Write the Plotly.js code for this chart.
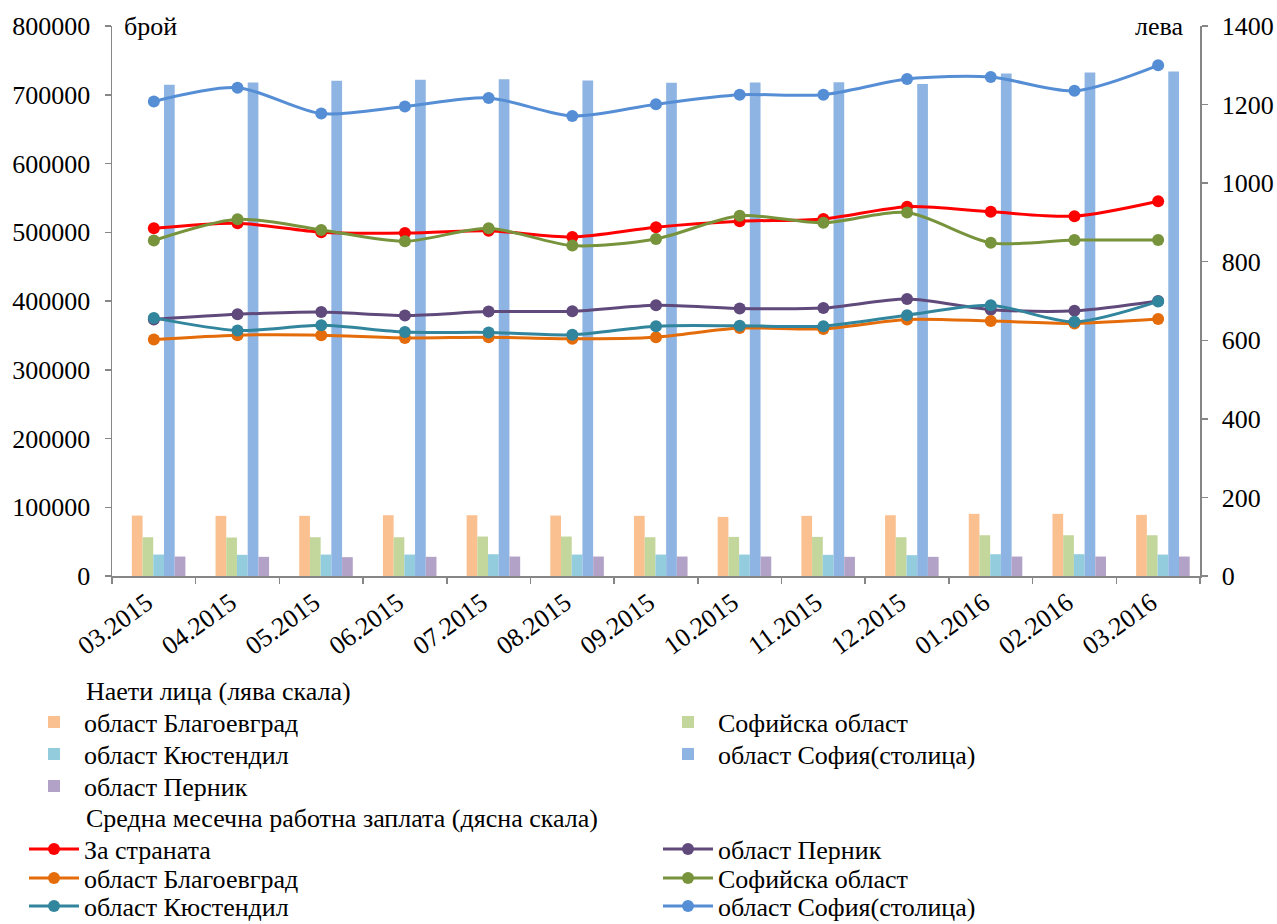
<!DOCTYPE html>
<html>
<head>
<meta charset="utf-8">
<script src="https://cdn.plot.ly/plotly-3.0.1.min.js"></script>
<style>html,body{margin:0;padding:0;background:#fff;}#chart{width:1277px;height:924px;}</style>
</head>
<body>
<div id="chart"></div>
<script>
// Categories (months)
const months = ['03.2015','04.2015','05.2015','06.2015','07.2015','08.2015','09.2015','10.2015','11.2015','12.2015','01.2016','02.2016','03.2016'];

// Employed persons (left scale)
const empBlagoevgrad = [87900, 87500, 87500, 88400, 88400, 87900, 87500, 86000, 87500, 88400, 90400, 90400, 88900];
const empSofiaRegion = [56400, 56000, 56400, 56400, 57400, 57400, 56400, 56900, 56900, 56400, 59300, 59300, 59300];
const empKyustendil = [31200, 30800, 31200, 31200, 31700, 31200, 31200, 31200, 30800, 30300, 31700, 31700, 31200];
const empSofiaCity = [714400, 717700, 720200, 721700, 722600, 720700, 717300, 717700, 718300, 715800, 730800, 732300, 733700];
const empPernik = [28300, 27900, 27400, 27900, 28300, 28300, 28300, 28300, 27900, 27900, 28300, 28300, 28300];

// Average monthly wage (right scale)
const wageCountry = [885, 898, 875, 873, 879, 863, 888, 903, 909, 940, 927, 916, 954];
const wagePernik = [653, 666, 672, 663, 673, 674, 689, 681, 682, 705, 678, 675, 700];
const wageBlagoevgrad = [602, 613, 613, 606, 608, 604, 608, 631, 629, 653, 649, 643, 654];
const wageSofiaRegion = [854, 908, 881, 852, 885, 841, 858, 917, 899, 925, 848, 855, 855];
const wageKyustendil = [657, 625, 638, 621, 620, 614, 636, 637, 636, 664, 689, 647, 699];
const wageSofiaCity = [1208, 1243, 1177, 1195, 1217, 1171, 1201, 1225, 1225, 1265, 1270, 1235, 1300];

const legendTitleBars = 'Наети лица (лява скала)';
const legendTitleLines = 'Средна месечна работна заплата (дясна скала)';

const FONT = 'Liberation Serif';
const FS = 26;
const BW = 0.128;
const W = 1277, H = 924;
const ML = 112, MR = 77, MT = 26, MB = 348;
const PW = W - ML - MR, PH = H - MT - MB;
const ITEMW = 50;

// legend placement: [text-left-x, row-center-y] in page pixels
const COL1 = 84, COL2 = 718;
let legendCount = 0;
const legends = {};
function legendAt(px, py) {
  legendCount++;
  const id = legendCount === 1 ? 'legend' : 'legend' + legendCount;
  legends[id] = {
    xref: 'paper', yref: 'paper',
    x: (px - (ITEMW + 10) - ML) / PW, y: (H - MB - py) / PH, xanchor: 'left', yanchor: 'middle',
    itemwidth: ITEMW,
    font: {family: FONT, size: FS, color: '#000'},
    bgcolor: 'rgba(0,0,0,0)', borderwidth: 0, itemclick: false, itemdoubleclick: false
  };
  return id;
}

function bar(name, y, color, slot, pos) {
  return {
    type: 'bar', name: name, x: months, y: y, yaxis: 'y',
    marker: {color: color, line: {width: 0}},
    width: BW, offset: -0.263 + slot * BW,
    showlegend: true,
    legend: legendAt(pos[0], pos[1])
  };
}
function line(name, y, color, pos) {
  return {
    type: 'scatter', mode: 'lines+markers', name: name, x: months, y: y, yaxis: 'y2',
    line: {color: color, width: 3, shape: 'spline', smoothing: 0.8},
    marker: {color: color, size: 12, symbol: 'circle'},
    showlegend: true,
    legend: legendAt(pos[0], pos[1])
  };
}

const data = [
  bar('област Благоевград', empBlagoevgrad, '#FAC090', 0, [COL1, 722]),
  bar('Софийска област', empSofiaRegion, '#C3D69B', 1, [COL2, 722]),
  bar('област Кюстендил', empKyustendil, '#93CDDD', 2, [COL1, 754]),
  bar('област София(столица)', empSofiaCity, '#8EB4E3', 3, [COL2, 754]),
  bar('област Перник', empPernik, '#B3A2C7', 4, [COL1, 786]),
  line('За страната', wageCountry, '#FF0000', [COL1, 849]),
  line('област Перник', wagePernik, '#604A7B', [COL2, 849]),
  line('област Благоевград', wageBlagoevgrad, '#E46C0A', [COL1, 878]),
  line('Софийска област', wageSofiaRegion, '#77933C', [COL2, 878]),
  line('област Кюстендил', wageKyustendil, '#31859C', [COL1, 906]),
  line('област София(столица)', wageSofiaCity, '#558ED5', [COL2, 906])
];

const axisCommon = {
  showgrid: false, zeroline: false, showline: true, linecolor: '#868686', linewidth: 1.5,
  ticks: 'outside', ticklen: 6, tickcolor: '#868686', tickwidth: 1.5, automargin: false,
  tickfont: {family: FONT, size: FS, color: '#000'}
};

const layout = Object.assign({
  width: W, height: H,
  margin: {l: ML, r: MR, t: MT, b: MB, pad: 0, autoexpand: false},
  paper_bgcolor: '#fff', plot_bgcolor: '#fff',
  font: {family: FONT, size: FS, color: '#000'},
  showlegend: true,
  barmode: 'overlay',
  xaxis: Object.assign({}, axisCommon, {
    type: 'category', categoryorder: 'array', categoryarray: months,
    tickson: 'boundaries', tickangle: -36, range: [-0.5, 12.5], ticklabelshift: -7
  }),
  yaxis: Object.assign({}, axisCommon, {
    range: [0, 800000], dtick: 100000, tickformat: 'd', ticklabelstandoff: 9
  }),
  yaxis2: Object.assign({}, axisCommon, {
    overlaying: 'y', side: 'right', range: [0, 1400], dtick: 200, tickformat: 'd', ticklabelstandoff: 9
  }),
  annotations: [
    {text: 'брой', xref: 'paper', yref: 'paper', x: 0.009, y: 1, xanchor: 'left', yanchor: 'middle', showarrow: false,
     font: {family: FONT, size: FS, color: '#000'}},
    {text: 'лева', xref: 'paper', yref: 'paper', x: 0.9865, y: 1, xanchor: 'right', yanchor: 'middle', showarrow: false,
     font: {family: FONT, size: FS, color: '#000'}},
    {text: legendTitleBars, xref: 'paper', yref: 'paper', x: (COL1 - ML) / PW, y: (H - MB - 691) / PH,
     xanchor: 'left', yanchor: 'middle', showarrow: false, font: {family: FONT, size: FS, color: '#000'}},
    {text: legendTitleLines, xref: 'paper', yref: 'paper', x: (COL1 - ML) / PW, y: (H - MB - 818) / PH,
     xanchor: 'left', yanchor: 'middle', showarrow: false, font: {family: FONT, size: FS, color: '#000'}}
  ]
}, legends);

Plotly.newPlot('chart', data, layout, {displayModeBar: false, staticPlot: true});
</script>
</body>
</html>
